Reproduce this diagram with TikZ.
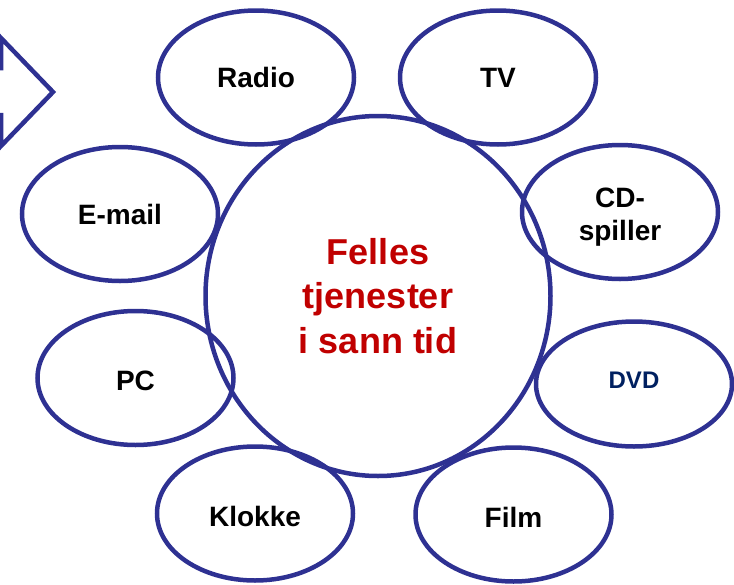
\documentclass[tikz,border=0pt]{standalone}
\usepackage{fontspec}
\setmainfont{Liberation Sans}
\usepackage{xcolor}
\usetikzlibrary{shapes.geometric}
\definecolor{rimblue}{RGB}{46,49,146}
\definecolor{hubred}{RGB}{192,0,0}
\definecolor{dvdnavy}{RGB}{0,32,96}
\tikzset{device/.style={ellipse,draw=rimblue,line width=4.5pt,inner sep=0pt,minimum width=196pt,minimum height=134pt,align=center,font=\bfseries\fontsize{28}{33}\selectfont}}

\begin{document}
\begin{tikzpicture}[x=1pt,y=-1pt]
      \useasboundingbox (0,0) rectangle (734,584);
      \node[device,minimum width=345pt,minimum height=360pt,text=hubred,font=\bfseries\fontsize{36}{44.5}\selectfont] (hub) at (378,296) {Felles\\tjenester\\i sann tid};

      \node[device] (radio) at (256,77.5) {Radio};
      \node[device] (tv) at (498,77.5) {TV};
      \node[device] (email) at (120,214) {E-mail};
      \node[device,text height=62pt] (cd) at (620,212) {CD-\\spiller};
      \node[device,text height=25.5pt] (pc) at (135.5,378) {PC};
      \node[device,minimum height=125pt,text depth=8pt,text=dvdnavy,font=\bfseries\fontsize{24}{28}\selectfont] (dvd) at (634,384) {DVD};
      \node[device,text height=25.5pt] (klokke) at (255,513.5) {Klokke};
      \node[device,text height=25pt] (film) at (513.5,514.5) {Film};

      \draw[rimblue,line width=4.5pt] (-20,68) -- (1,68) -- (1,38) -- (53,92) -- (1,146) -- (1,115) -- (-20,115);
\end{tikzpicture}
\end{document}
